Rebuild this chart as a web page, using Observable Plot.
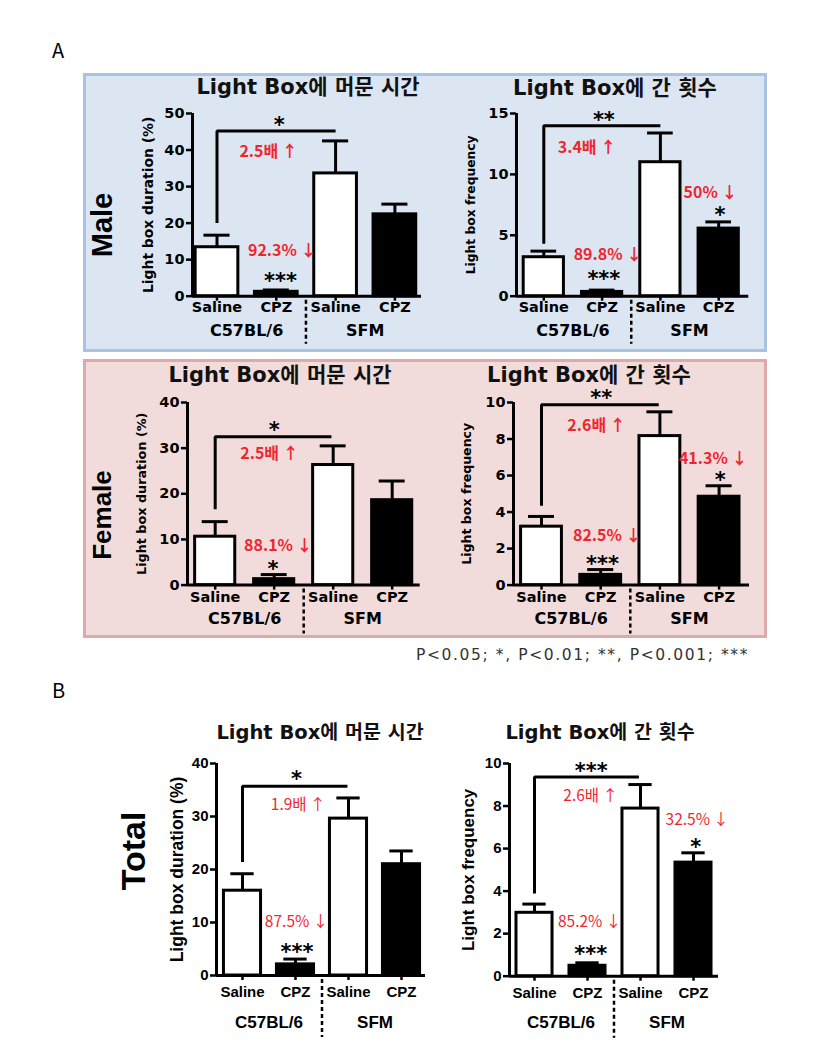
<!DOCTYPE html>
<html><head><meta charset="utf-8">
<script src="https://cdn.jsdelivr.net/npm/d3@7"></script>
<script src="https://cdn.jsdelivr.net/npm/@observablehq/plot@0.6"></script>
<style>
body{margin:0;background:#fff;}
#root{position:relative;width:830px;height:1058px;overflow:hidden;background:#fff;}
.box{position:absolute;box-sizing:border-box;}
.title{position:absolute;transform:translate(-50%,-50%);font-family:"DejaVu Sans","Noto Sans CJK KR",sans-serif;font-weight:bold;white-space:nowrap;color:#111;line-height:1;}
.row{position:absolute;transform:translate(-50%,-50%) rotate(-90deg);font-family:"Liberation Sans",Arial,sans-serif;font-weight:bold;white-space:nowrap;color:#000;line-height:1;}
.letter{position:absolute;transform:translateY(-50%);font-family:"Noto Sans CJK KR",sans-serif;font-size:20px;color:#000;line-height:1;}
.foot{position:absolute;transform:translateY(-50%);font-family:"DejaVu Sans",sans-serif;font-size:15.5px;letter-spacing:1.6px;color:#333;white-space:nowrap;line-height:1;}
.panel{position:absolute;}
</style></head><body><div id="root"></div>
<script>
// ---- categories ----
const treatments = ["Saline", "CPZ", "Saline", "CPZ"];
const strains = ["C57BL/6", "SFM"];

// ---- values (mean) and SEM, order: C57 Saline, C57 CPZ, SFM Saline, SFM CPZ ----
const maleDuration = [13.4, 1.2, 33.6, 22.4];
const maleDurationSem = [3.3, 0.5, 8.9, 2.8];
const maleFrequency = [3.2, 0.35, 11.0, 5.55];
const maleFrequencySem = [0.5, 0.15, 2.4, 0.55];
const femaleDuration = [10.6, 1.3, 26.3, 18.6];
const femaleDurationSem = [3.3, 1.0, 4.2, 4.2];
const femaleFrequency = [3.2, 0.56, 8.16, 4.84];
const femaleFrequencySem = [0.56, 0.29, 1.33, 0.6];
const totalDuration = [16.0, 2.1, 29.6, 21.0];
const totalDurationSem = [3.2, 1.0, 3.9, 2.5];
const totalFrequency = [2.98, 0.49, 7.88, 5.34];
const totalFrequencySem = [0.41, 0.14, 1.13, 0.46];

// ---- tick values ----
const ticks50 = [0, 10, 20, 30, 40, 50];
const ticks40 = [0, 10, 20, 30, 40];
const ticks15 = [0, 5, 10, 15];
const ticks10 = [0, 2, 4, 6, 8, 10];

// ---- labels ----
const titleDuration = "Light Box에 머문 시간";
const titleFrequency = "Light Box에 간 횟수";
const ylabelDuration = "Light box duration (%)";
const ylabelFrequency = "Light box frequency";

// ---- significance brackets (C57 Saline vs SFM Saline) ----
const maleDurationBracket = {from: 0, to: 2, low: 20, high: 45.2};
const maleFrequencyBracket = {from: 0, to: 2, low: 4.3, high: 14.0};
const femaleDurationBracket = {from: 0, to: 1.97, low: 16.6, high: 32.5};
const femaleFrequencyBracket = {from: 0, to: 1.98, low: 4.34, high: 9.87};
const totalDurationBracket = {from: 0, to: 1.98, low: 21.4, high: 35.7};
const totalFrequencyBracket = {from: 0, to: 1.97, low: 3.89, high: 9.37};

// ---- asterisks ----
const maleDurationStars = [{text: "*", x: 1.05, y: 48.0}, {text: "***", x: 1.07, y: 5.2}];
const maleFrequencyStars = [{text: "**", x: 1.03, y: 14.8}, {text: "***", x: 1.03, y: 1.72}, {text: "*", x: 3.02, y: 7.0}];
const femaleDurationStars = [{text: "*", x: 1.0, y: 34.9}, {text: "*", x: 0.98, y: 4.4}];
const femaleFrequencyStars = [{text: "**", x: 1.01, y: 10.45}, {text: "***", x: 1.03, y: 1.37}, {text: "*", x: 3.02, y: 5.95}];
const totalDurationStars = [{text: "*", x: 1.02, y: 37.8}, {text: "***", x: 1.03, y: 5.1}];
const totalFrequencyStars = [{text: "***", x: 1.07, y: 9.84}, {text: "***", x: 1.06, y: 1.22}, {text: "*", x: 3.04, y: 6.24}];

// ---- red change notes ----
const maleDurationNotes = [{text: "2.5배 ↑", x: 0.87, y: 39.4}, {text: "92.3% ↓", x: 1.1, y: 12.3}];
const maleFrequencyNotes = [{text: "3.4배 ↑", x: 0.74, y: 12.2}, {text: "89.8% ↓", x: 1.1, y: 3.37}, {text: "50% ↓", x: 2.86, y: 8.48}];
const femaleDurationNotes = [{text: "2.5배 ↑", x: 0.92, y: 28.7}, {text: "88.1% ↓", x: 1.07, y: 8.5}];
const femaleFrequencyNotes = [{text: "2.6배 ↑", x: 0.93, y: 8.72}, {text: "82.5% ↓", x: 1.11, y: 2.7}, {text: "41.3% ↓", x: 2.9, y: 6.93}];
const totalDurationNotes = [{text: "1.9배 ↑", x: 1.05, y: 32.1}, {text: "87.5% ↓", x: 1.02, y: 10.1}];
const totalFrequencyNotes = [{text: "2.6배 ↑", x: 1.06, y: 8.48}, {text: "85.2% ↓", x: 1.04, y: 2.55}, {text: "32.5% ↓", x: 3.07, y: 7.33}];

const root = document.getElementById("root");
function el(cls, text, css) {
  const d = document.createElement("div");
  d.className = cls; d.textContent = text;
  Object.assign(d.style, css);
  root.appendChild(d);
  return d;
}

// background boxes
el("box", "", {left: "83px", top: "73px", width: "684px", height: "279px", background: "#dce6f2", border: "3px solid #a9c4e2"});
el("box", "", {left: "83px", top: "359px", width: "684px", height: "279px", background: "#f2dcdb", border: "3px solid #dcaaaa"});

el("letter", "A", {left: "52px", top: "50px"});
el("letter", "B", {left: "52px", top: "690px"});
el("foot", "P<0.05; *, P<0.01; **, P<0.001; ***", {left: "416px", top: "656px"});

el("row", "Male", {left: "102px", top: "225px", fontSize: "29px"});
el("row", "Female", {left: "102px", top: "515px", fontSize: "26px"});
el("row", "Total", {left: "133px", top: "851px", fontSize: "34px"});

function makePanel(p) {
  const ml = 70, mr = 14, mt = 40, mb = 80;
  const W = ml + (p.axisEnd - p.axisX) + mr;
  const H = mt + (p.y0 - p.yTop) + mb;
  const xdom = [(p.axisX - p.c0) / p.step, (p.axisEnd - p.c0) / p.step];
  const rows = p.values.map((v, i) => ({i, v, top: v + p.sem[i]}));
  const hw = p.barFrac / 2, cap = 0.22;
  const b = p.bracket;
  const bracket = [{x: b.from, y: b.low}, {x: b.from, y: b.high}, {x: b.to, y: b.high}];
  const svg = Plot.plot({
    width: W, height: H,
    marginLeft: ml, marginRight: mr, marginTop: mt, marginBottom: mb,
    x: {type: "linear", domain: xdom},
    y: {type: "linear", domain: [0, p.ymax]},
    style: {overflow: "visible", background: "transparent", fontFamily: p.font, fontWeight: "bold", fontSize: p.tickFont + "px", color: "#000"},
    marks: [
      Plot.axisY({ticks: p.ticks, tickSize: 6, tickPadding: 2, tickFormat: d => String(d), strokeWidth: 2.5, label: null, fontSize: p.tickFont}),
      Plot.axisX({ticks: [0, 1, 2, 3], tickSize: 5, tickPadding: p.tickPad, tickFormat: i => treatments[i], strokeWidth: 2.5, label: null, fontSize: p.tickFont}),
      Plot.ruleX([xdom[0]], {y1: 0, y2: p.ymax, strokeWidth: 3}),
      Plot.ruleY([0], {strokeWidth: 3}),
      Plot.ruleX([1.5], {y1: 0, y2: 0, insetTop: 4, insetBottom: -p.sepLen, strokeWidth: 2.5, strokeDasharray: "4,3"}),
      Plot.ruleX(rows, {x: "i", y1: "v", y2: "top", strokeWidth: 3}),
      Plot.ruleY(rows, {x1: d => d.i - cap, x2: d => d.i + cap, y: "top", strokeWidth: 3}),
      Plot.rectY(rows, {filter: d => d.i % 2 === 0, x1: d => d.i - hw, x2: d => d.i + hw, y1: 0, y2: "v", fill: "white", stroke: "black", strokeWidth: 3}),
      Plot.rectY(rows, {filter: d => d.i % 2 === 1, x1: d => d.i - hw, x2: d => d.i + hw, y1: 0, y2: "v", fill: "black", stroke: "black", strokeWidth: 3}),
      Plot.line(bracket, {x: "x", y: "y", strokeWidth: 3, strokeLinejoin: "miter", strokeLinecap: "butt"}),
      Plot.text(p.stars, {x: "x", y: "y", text: "text", fontFamily: "DejaVu Sans", fontSize: 21, fontWeight: "bold", dy: 4}),
      Plot.text(p.notes, {x: "x", y: "y", text: "text", fill: "#ee2630", fontFamily: "Noto Sans CJK KR", fontSize: p.noteFont, fontWeight: p.noteWeight}),
      Plot.text([p.ylabel], {text: d => d, frameAnchor: "left", textAnchor: "middle", rotate: -90, dx: p.ylabX - p.axisX, fontSize: p.ylabFont}),
      Plot.text(strains, {text: d => d, x: (d, i) => 2 * i + 0.5, frameAnchor: "bottom", dy: p.groupDy, fontSize: p.groupFont})
    ]
  });
  const wrap = document.createElement("div");
  wrap.className = "panel";
  Object.assign(wrap.style, {left: (p.axisX - ml) + "px", top: (p.yTop - mt) + "px", width: W + "px", height: H + "px"});
  wrap.appendChild(svg);
  root.appendChild(wrap);
  el("title", p.title, {left: p.titleX + "px", top: p.titleY + "px", fontSize: p.titleFont + "px"});
}

const fontA = "'DejaVu Sans', sans-serif";
const fontB = "'Liberation Sans', Arial, sans-serif";

makePanel({values: maleDuration, sem: maleDurationSem, ticks: ticks50, ymax: 50,
  axisX: 192, axisEnd: 421, yTop: 113.3, y0: 296, c0: 216.5, step: 59.3, barFrac: 0.72,
  bracket: maleDurationBracket, stars: maleDurationStars, notes: maleDurationNotes,
  ylabel: ylabelDuration, ylabX: 148, ylabFont: 13.9, font: fontA, tickFont: 14.5, tickPad: 1,
  groupDy: 40, groupFont: 16, sepLen: 48, noteFont: 16, noteWeight: "bold",
  title: titleDuration, titleX: 308, titleY: 87, titleFont: 21});
makePanel({values: maleFrequency, sem: maleFrequencySem, ticks: ticks15, ymax: 15,
  axisX: 515.7, axisEnd: 748, yTop: 113.3, y0: 296, c0: 543, step: 58.3, barFrac: 0.69,
  bracket: maleFrequencyBracket, stars: maleFrequencyStars, notes: maleFrequencyNotes,
  ylabel: ylabelFrequency, ylabX: 470, ylabFont: 12.3, font: fontA, tickFont: 14.5, tickPad: 1,
  groupDy: 40, groupFont: 16, sepLen: 48, noteFont: 16, noteWeight: "bold",
  title: titleFrequency, titleX: 615, titleY: 88, titleFont: 21});
makePanel({values: femaleDuration, sem: femaleDurationSem, ticks: ticks40, ymax: 40,
  axisX: 187.3, axisEnd: 420, yTop: 401.7, y0: 584.3, c0: 215, step: 59, barFrac: 0.68,
  bracket: femaleDurationBracket, stars: femaleDurationStars, notes: femaleDurationNotes,
  ylabel: ylabelDuration, ylabX: 141.7, ylabFont: 12.8, font: fontA, tickFont: 14.5, tickPad: 2,
  groupDy: 39, groupFont: 16, sepLen: 49, noteFont: 16, noteWeight: "bold",
  title: titleDuration, titleX: 280, titleY: 375, titleFont: 21});
makePanel({values: femaleFrequency, sem: femaleFrequencySem, ticks: ticks10, ymax: 10,
  axisX: 513, axisEnd: 749, yTop: 401.7, y0: 584.3, c0: 541, step: 59.2, barFrac: 0.69,
  bracket: femaleFrequencyBracket, stars: femaleFrequencyStars, notes: femaleFrequencyNotes,
  ylabel: ylabelFrequency, ylabX: 466.7, ylabFont: 12.6, font: fontA, tickFont: 14.5, tickPad: 2,
  groupDy: 39, groupFont: 16, sepLen: 49, noteFont: 16, noteWeight: "bold",
  title: titleFrequency, titleX: 589, titleY: 375, titleFont: 21});
makePanel({values: totalDuration, sem: totalDurationSem, ticks: ticks40, ymax: 40,
  axisX: 216, axisEnd: 425, yTop: 763.3, y0: 975.3, c0: 242, step: 53, barFrac: 0.70,
  bracket: totalDurationBracket, stars: totalDurationStars, notes: totalDurationNotes,
  ylabel: ylabelDuration, ylabX: 176.7, ylabFont: 17.5, font: fontB, tickFont: 15, tickPad: 6,
  groupDy: 52, groupFont: 17, sepLen: 62, noteFont: 15.5, noteWeight: "normal",
  title: titleDuration, titleX: 320, titleY: 733, titleFont: 19.5});
makePanel({values: totalFrequency, sem: totalFrequencySem, ticks: ticks10, ymax: 10,
  axisX: 509, axisEnd: 718, yTop: 763.3, y0: 976, c0: 534, step: 53, barFrac: 0.68,
  bracket: totalFrequencyBracket, stars: totalFrequencyStars, notes: totalFrequencyNotes,
  ylabel: ylabelFrequency, ylabX: 468, ylabFont: 17, font: fontB, tickFont: 15, tickPad: 6,
  groupDy: 52, groupFont: 17, sepLen: 62, noteFont: 15.5, noteWeight: "normal",
  title: titleFrequency, titleX: 600, titleY: 733, titleFont: 19.5});
</script></body></html>
